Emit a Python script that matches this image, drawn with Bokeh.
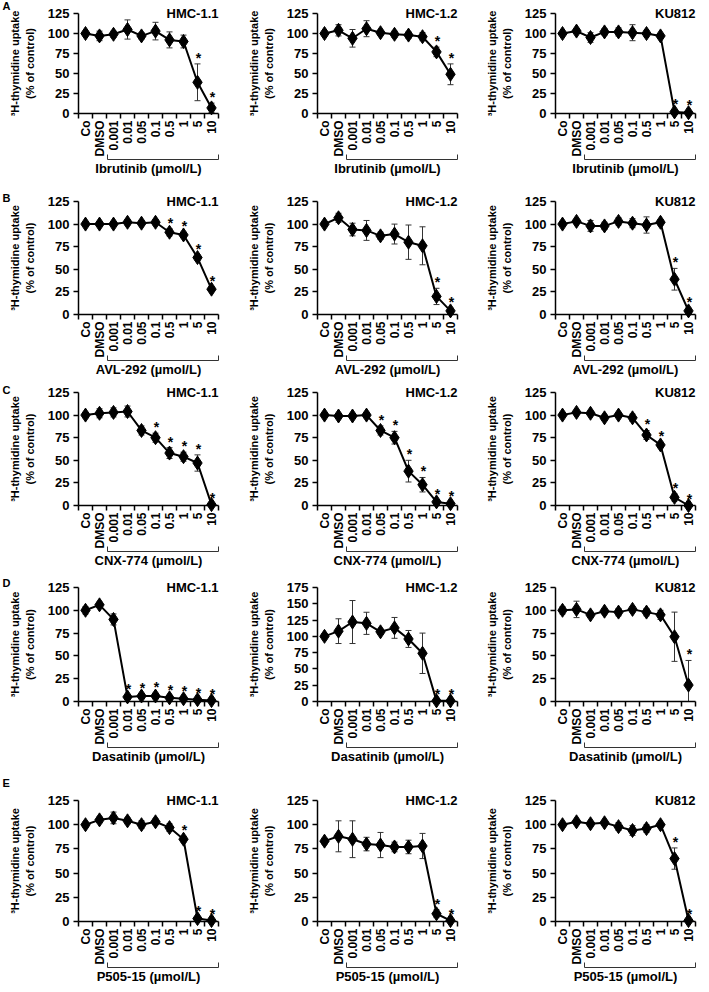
import math
from bokeh.plotting import figure
from bokeh.models import (Range1d, FixedTicker, LinearAxis, Whisker, TeeHead,
                          ColumnDataSource)
from bokeh.layouts import column, row
from bokeh.embed import file_html
from bokeh.resources import INLINE
from bokeh.core.properties import value

# ---------------- data ----------------
doses = ["Co", "DMSO", "0.001", "0.01", "0.05", "0.1", "0.5", "1", "5", "10"]
cell_lines = ["HMC-1.1", "HMC-1.2", "KU812"]
drugs = ["Ibrutinib", "AVL-292", "CNX-774", "Dasatinib", "P505-15"]
panel_letters = ["A", "B", "C", "D", "E"]
y_tick_labels = [0, 25, 50, 75, 100, 125, 150, 175]

# A: Ibrutinib
ibr_hmc11 = [100, 97, 99, 105, 97, 103, 92, 90, 39, 7]
ibr_hmc11_err = [3, 6, 4, 12, 4, 11, 10, 8, 23, 6]
ibr_hmc11_sig = [0, 0, 0, 0, 0, 0, 0, 0, 1, 1]
ibr_hmc12 = [100, 104, 94, 106, 101, 99, 98, 96, 77, 49]
ibr_hmc12_err = [3, 7, 11, 10, 3, 4, 4, 5, 6, 13]
ibr_hmc12_sig = [0, 0, 0, 0, 0, 0, 0, 0, 1, 1]
ibr_ku812 = [100, 103, 95, 102, 102, 101, 100, 97, 2, 1]
ibr_ku812_err = [2, 3, 6, 4, 5, 10, 4, 3, 3, 2]
ibr_ku812_sig = [0, 0, 0, 0, 0, 0, 0, 0, 1, 1]

# B: AVL-292
avl_hmc11 = [100, 100, 100, 102, 101, 102, 91, 88, 63, 28]
avl_hmc11_err = [1, 1, 2, 3, 2, 3, 4, 3, 3, 2]
avl_hmc11_sig = [0, 0, 0, 0, 0, 0, 1, 1, 1, 1]
avl_hmc12 = [100, 107, 94, 93, 87, 89, 80, 76, 20, 4]
avl_hmc12_err = [2, 5, 7, 11, 4, 11, 19, 21, 9, 3]
avl_hmc12_sig = [0, 0, 0, 0, 0, 0, 0, 0, 1, 1]
avl_ku812 = [100, 103, 98, 98, 103, 101, 99, 102, 39, 4]
avl_ku812_err = [2, 2, 6, 4, 4, 5, 9, 3, 12, 3]
avl_ku812_sig = [0, 0, 0, 0, 0, 0, 0, 0, 1, 1]

# C: CNX-774
cnx_hmc11 = [100, 102, 103, 104, 83, 75, 58, 54, 47, 1]
cnx_hmc11_err = [3, 5, 5, 6, 5, 5, 6, 5, 9, 1]
cnx_hmc11_sig = [0, 0, 0, 0, 0, 1, 1, 1, 1, 1]
cnx_hmc12 = [100, 99, 99, 100, 83, 75, 38, 23, 4, 2]
cnx_hmc12_err = [1, 1, 1, 3, 5, 7, 12, 8, 2, 2]
cnx_hmc12_sig = [0, 0, 0, 0, 1, 1, 1, 1, 1, 1]
cnx_ku812 = [100, 103, 102, 97, 100, 97, 78, 67, 9, 0]
cnx_ku812_err = [2, 2, 2, 3, 2, 4, 5, 3, 4, 1]
cnx_ku812_sig = [0, 0, 0, 0, 0, 0, 1, 1, 1, 1]

# D: Dasatinib
das_hmc11 = [100, 106, 90, 5, 6, 6, 4, 3, 2, 1]
das_hmc11_err = [4, 3, 6, 2, 2, 3, 2, 2, 1, 1]
das_hmc11_sig = [0, 0, 0, 1, 1, 1, 1, 1, 1, 1]
das_hmc12 = [100, 108, 122, 120, 107, 113, 96, 74, 1, 1]
das_hmc12_err = [4, 19, 33, 17, 4, 16, 13, 31, 1, 1]
das_hmc12_sig = [0, 0, 0, 0, 0, 0, 0, 0, 1, 1]
das_ku812 = [100, 101, 95, 99, 98, 101, 98, 95, 71, 18]
das_ku812_err = [4, 9, 3, 3, 4, 3, 4, 5, 27, 27]
das_ku812_sig = [0, 0, 0, 0, 0, 0, 0, 0, 0, 1]

# E: P505-15
p505_hmc11 = [100, 105, 107, 104, 100, 103, 97, 85, 3, 1]
p505_hmc11_err = [3, 3, 6, 3, 4, 3, 4, 3, 2, 1]
p505_hmc11_sig = [0, 0, 0, 0, 0, 0, 0, 1, 1, 1]
p505_hmc12 = [83, 88, 85, 80, 79, 77, 77, 78, 8, 1]
p505_hmc12_err = [3, 16, 19, 7, 13, 5, 7, 13, 4, 1]
p505_hmc12_sig = [0, 0, 0, 0, 0, 0, 0, 0, 1, 1]
p505_ku812 = [100, 103, 101, 102, 98, 94, 96, 100, 65, 1]
p505_ku812_err = [2, 2, 2, 2, 4, 5, 4, 2, 11, 1]
p505_ku812_sig = [0, 0, 0, 0, 0, 0, 0, 0, 1, 1]

y_max = [[125, 125, 125], [125, 125, 125], [125, 125, 125], [125, 175, 125], [125, 125, 125]]

panels = [
    [(ibr_hmc11, ibr_hmc11_err, ibr_hmc11_sig), (ibr_hmc12, ibr_hmc12_err, ibr_hmc12_sig), (ibr_ku812, ibr_ku812_err, ibr_ku812_sig)],
    [(avl_hmc11, avl_hmc11_err, avl_hmc11_sig), (avl_hmc12, avl_hmc12_err, avl_hmc12_sig), (avl_ku812, avl_ku812_err, avl_ku812_sig)],
    [(cnx_hmc11, cnx_hmc11_err, cnx_hmc11_sig), (cnx_hmc12, cnx_hmc12_err, cnx_hmc12_sig), (cnx_ku812, cnx_ku812_err, cnx_ku812_sig)],
    [(das_hmc11, das_hmc11_err, das_hmc11_sig), (das_hmc12, das_hmc12_err, das_hmc12_sig), (das_ku812, das_ku812_err, das_ku812_sig)],
    [(p505_hmc11, p505_hmc11_err, p505_hmc11_sig), (p505_hmc12, p505_hmc12_err, p505_hmc12_sig), (p505_ku812, p505_ku812_err, p505_ku812_sig)],
]

# ---------------- layout / style ----------------
FONT = "Liberation Sans"
row_frame_h = [100, 113, 113, 114, 121]
row_top = [13, 17, 7, 11, 28]
row_bottom = 71
letter_dy = [-8, -4, -3, -5, -18]
col_left = 78
col_right = [21, 20, 10]
frame_w = 140


def add_text(p, x, y, txt, size, align, baseline, dx=0, dy=0):
    src = ColumnDataSource(dict(x=[x], y=[y], t=[txt]))
    r = p.text("x", "y", text="t", source=src, text_font=value(FONT),
               text_font_size=size, text_font_style="bold", text_align=align,
               text_baseline=baseline, x_offset=dx, y_offset=dy, text_color="black")
    r.level = "overlay"
    return r


def make_panel(r, c):
    vals, errs, sig = panels[r][c]
    ymax = y_max[r][c]
    xs = list(range(len(doses)))
    p = figure(frame_width=frame_w, frame_height=row_frame_h[r],
               min_border_left=col_left, min_border_right=col_right[c],
               min_border_top=row_top[r], min_border_bottom=row_bottom,
               x_range=Range1d(-0.5, len(doses) - 0.5), y_range=Range1d(0, ymax),
               toolbar_location=None, output_backend="svg")
    p.outline_line_color = None
    p.xgrid.visible = False
    p.ygrid.visible = False

    xa = p.xaxis[0]
    xa.ticker = FixedTicker(ticks=xs, minor_ticks=[i - 0.5 for i in range(len(doses) + 1)])
    xa.major_label_overrides = {i: d for i, d in enumerate(doses)}
    xa.major_label_orientation = math.pi / 2
    xa.major_tick_out = 0
    xa.major_tick_in = 0
    xa.minor_tick_out = 5
    xa.minor_tick_in = 0
    xa.minor_tick_line_color = "black"
    xa.minor_tick_line_width = 1.5
    xa.axis_line_width = 1.5
    xa.axis_line_color = "black"
    xa.major_label_standoff = 2
    xa.major_label_text_font = FONT
    xa.major_label_text_font_size = "12px"
    xa.major_label_text_font_style = "bold"
    xa.major_label_text_color = "black"

    ya = p.yaxis[0]
    ya.ticker = FixedTicker(ticks=[t for t in y_tick_labels if t <= ymax])
    ya.major_tick_out = 5
    ya.major_tick_in = 0
    ya.minor_tick_out = 0
    ya.minor_tick_in = 0
    ya.major_tick_line_width = 1.5
    ya.axis_line_width = 1.5
    ya.axis_line_color = "black"
    ya.major_label_standoff = 4
    ya.major_label_text_font = FONT
    ya.major_label_text_font_size = "13px"
    ya.major_label_text_font_style = "bold"
    ya.major_label_text_color = "black"
    ya.axis_label = "\u00b3H-thymidine uptake\n(% of control)"
    ya.axis_label_text_font = FONT
    ya.axis_label_text_font_size = "11px"
    ya.axis_label_text_font_style = "bold"
    ya.axis_label_text_color = "black"
    ya.axis_label_standoff = 9

    # bracket under the drug concentrations (end ticks drawn as minor ticks)
    b0, b1 = 1.6, len(doses) - 0.5
    ba = LinearAxis(ticker=FixedTicker(ticks=[], minor_ticks=[b0, b1]), bounds=(b0, b1),
                    major_tick_in=0, major_tick_out=0, minor_tick_in=5, minor_tick_out=0,
                    major_label_standoff=0,
                    axis_line_color="#333333", axis_line_width=1,
                    minor_tick_line_color="#333333", minor_tick_line_width=1,
                    axis_label=f"{drugs[r]} (\u00b5mol/L)", axis_label_standoff=1,
                    axis_label_text_font=FONT, axis_label_text_font_size="13px",
                    axis_label_text_font_style="bold", axis_label_text_color="black")
    p.add_layout(ba, "below")

    upper = [v + e for v, e in zip(vals, errs)]
    lower = [v - e for v, e in zip(vals, errs)]
    src = ColumnDataSource(dict(x=xs, y=vals, upper=upper, lower=lower))
    w = Whisker(source=src, base="x", upper="upper", lower="lower", dimension="height",
                line_color="#333333", line_width=1,
                upper_head=TeeHead(size=6, line_color="#333333", line_width=1),
                lower_head=TeeHead(size=6, line_color="#333333", line_width=1))
    p.add_layout(w)

    ln = p.line("x", "y", source=src, line_color="black", line_width=2)
    ln.level = "overlay"
    mk = p.scatter("x", "y", source=src, marker="diamond", size=14,
                   fill_color="black", line_color="black")
    mk.level = "overlay"

    # significance asterisks just above the upper error bar
    for x, u, s in zip(xs, upper, sig):
        if s:
            add_text(p, x, u, "*", "14px", "center", "alphabetic", dx=1, dy=-6)

    add_text(p, len(doses) - 0.5, ymax, cell_lines[c], "13px", "right", "middle")
    if c == 0:
        add_text(p, -0.5, ymax, panel_letters[r], "11px", "left", "middle",
                 dx=-76, dy=letter_dy[r])
    return p


rows = []
for r in range(len(drugs)):
    rows.append(row(*[make_panel(r, c) for c in range(len(cell_lines))]))
layout = column(*rows)

open("out.html", "w").write(file_html(layout, INLINE))
